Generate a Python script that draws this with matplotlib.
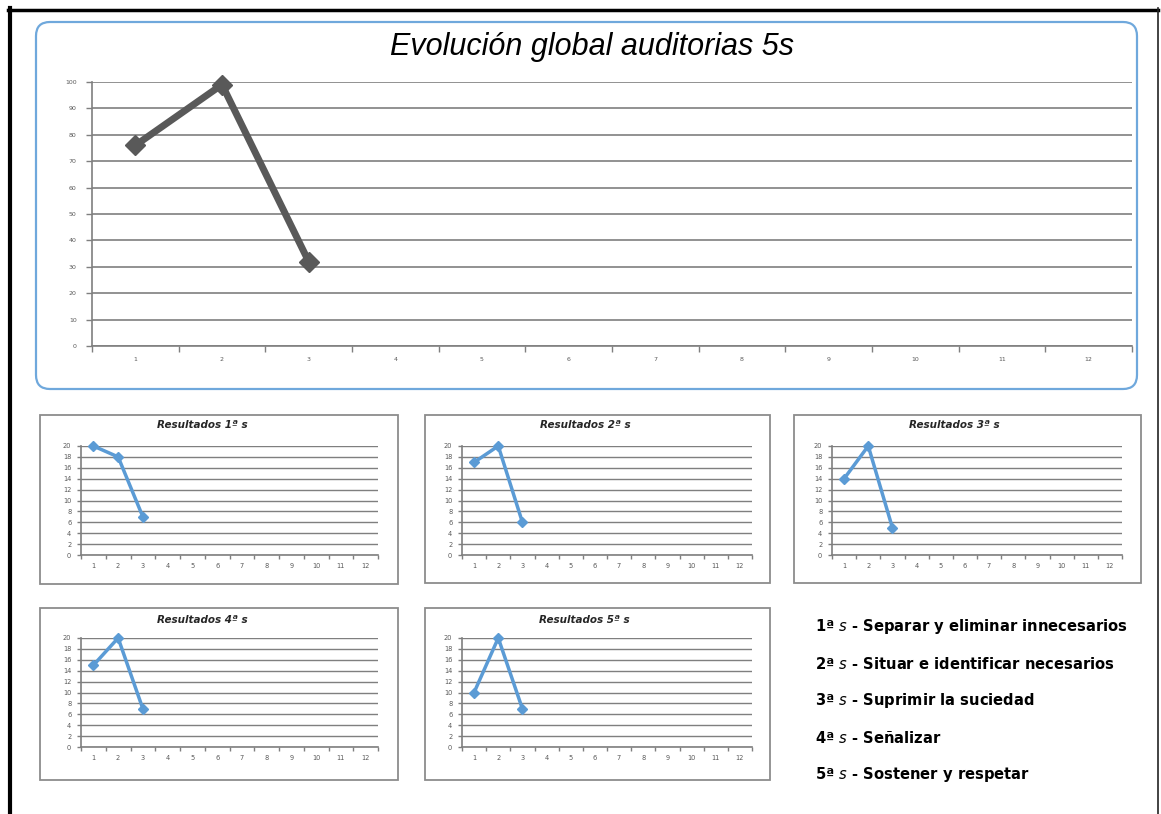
import matplotlib
matplotlib.use('Agg')
import matplotlib.pyplot as plt
from matplotlib.patches import FancyBboxPatch, Rectangle

#%% data

months = list(range(1, 13))
global_vals = [76, 99, 32]

s1_vals = [20, 18, 7]
s2_vals = [17, 20, 6]
s3_vals = [14, 20, 5]
s4_vals = [15, 20, 7]
s5_vals = [10, 20, 7]

main_title = 'Evolución global auditorias 5s'
small_titles = ['Resultados 1ª s', 'Resultados 2ª s', 'Resultados 3ª s',
                'Resultados 4ª s', 'Resultados 5ª s']
legend_num = ['1ª', '2ª', '3ª', '4ª', '5ª']
legend_txt = ['Separar y eliminar innecesarios',
              'Situar e identificar necesarios',
              'Suprimir la suciedad',
              'Señalizar',
              'Sostener y respetar']

#%% helpers

W, H = 1161, 814
GRID = '#7f7f7f'
TICKC = '#595959'


def px_axes(fig, x0, y0, x1, y1, **kw):
    # axes placed by pixel box (top-left origin)
    return fig.add_axes([x0 / W, 1 - y1 / H, (x1 - x0) / W, (y1 - y0) / H], **kw)


def excel_style(ax, ymax, ystep, fs, tick_len, xpad, ypad, glw):
    ax.set_xlim(0.5, 12.5)
    ax.set_ylim(0, ymax)
    ax.set_xticks(months)
    ax.set_xticks([m + 0.5 for m in range(0, 13)], minor=True)
    ax.set_yticks(range(0, ymax + 1, ystep))
    ax.tick_params(axis='x', which='major', length=0, labelsize=fs,
                   labelcolor=TICKC, pad=xpad)
    ax.tick_params(axis='x', which='minor', length=tick_len, color=GRID,
                   direction='out', width=1)
    ax.tick_params(axis='y', length=tick_len, color=GRID, labelsize=fs,
                   labelcolor=TICKC, pad=ypad, width=1)
    for s in ('top', 'right'):
        ax.spines[s].set_visible(False)
    for s in ('left', 'bottom'):
        ax.spines[s].set_color(GRID)
        ax.spines[s].set_linewidth(1.2)
    ax.grid(axis='y', color=GRID, linewidth=glw)
    ax.set_axisbelow(True)
    ax.set_facecolor('white')


#%% figure

fig = plt.figure(figsize=(W / 100, H / 100), dpi=100)

# overlay in pixel coordinates for frames
bg = fig.add_axes([0, 0, 1, 1], zorder=-5)
bg.set_xlim(0, W)
bg.set_ylim(H, 0)
bg.axis('off')

# page border
bg.plot([10, 10], [8, H], color='black', linewidth=3)
bg.plot([8, 1158], [9.5, 9.5], color='black', linewidth=2.5)
bg.plot([1158, 1158], [8, H], color='#222222', linewidth=1.2)

# main rounded panel
bg.add_patch(FancyBboxPatch((36, 22), 1101, 367,
                            boxstyle='round,pad=0,rounding_size=14',
                            facecolor='white', edgecolor='#6fa8dc',
                            linewidth=1.6))
bg.text(592, 47, main_title, ha='center', va='center', fontsize=22,
        style='italic', family='Liberation Sans', color='black')

# small chart boxes
boxes = [(40, 415, 398, 584), (425, 415, 770, 583), (794, 415, 1141, 583),
         (40, 608, 398, 780), (425, 608, 770, 780)]
for (x0, y0, x1, y1) in boxes:
    bg.add_patch(Rectangle((x0, y0), x1 - x0, y1 - y0, facecolor='white',
                           edgecolor='#8c8c8c', linewidth=1.3))

# main chart
ax = px_axes(fig, 92, 82, 1132, 346)
excel_style(ax, 100, 10, 4.5, 4, 8, 7, 1.2)
ax.plot(months[:len(global_vals)], global_vals, color='#595959',
        linewidth=5, marker='D', markersize=10, clip_on=False)

# small charts
small_axes = [(81, 446, 378, 555), (462, 446, 752, 555), (832, 446, 1122, 555),
              (81, 638, 378, 747), (462, 638, 752, 747)]
small_vals = [s1_vals, s2_vals, s3_vals, s4_vals, s5_vals]
title_pos = [(202, 425), (585, 425), (954, 425), (202, 620), (584, 620)]

for (x0, y0, x1, y1), vals, t, (tx, ty) in zip(small_axes, small_vals,
                                               small_titles, title_pos):
    a = px_axes(fig, x0, y0, x1, y1)
    excel_style(a, 20, 2, 4.8, 3, 6, 4, 1.0)
    a.plot(months[:len(vals)], vals, color='#5b9bd5', linewidth=2.5,
           marker='D', markersize=5, clip_on=False)
    bg.text(tx, ty, t, ha='center', va='center', fontsize=7.5,
            style='italic', weight='bold', color='#262626')

# legend text
for i, (n, t) in enumerate(zip(legend_num, legend_txt)):
    y = 627 + i * 37
    bg.text(815, y, n + r' $\it{s}$ - ' + t, ha='left', va='center',
            fontsize=10.6, weight='bold', color='black')

fig.savefig('out.png', dpi=100)
